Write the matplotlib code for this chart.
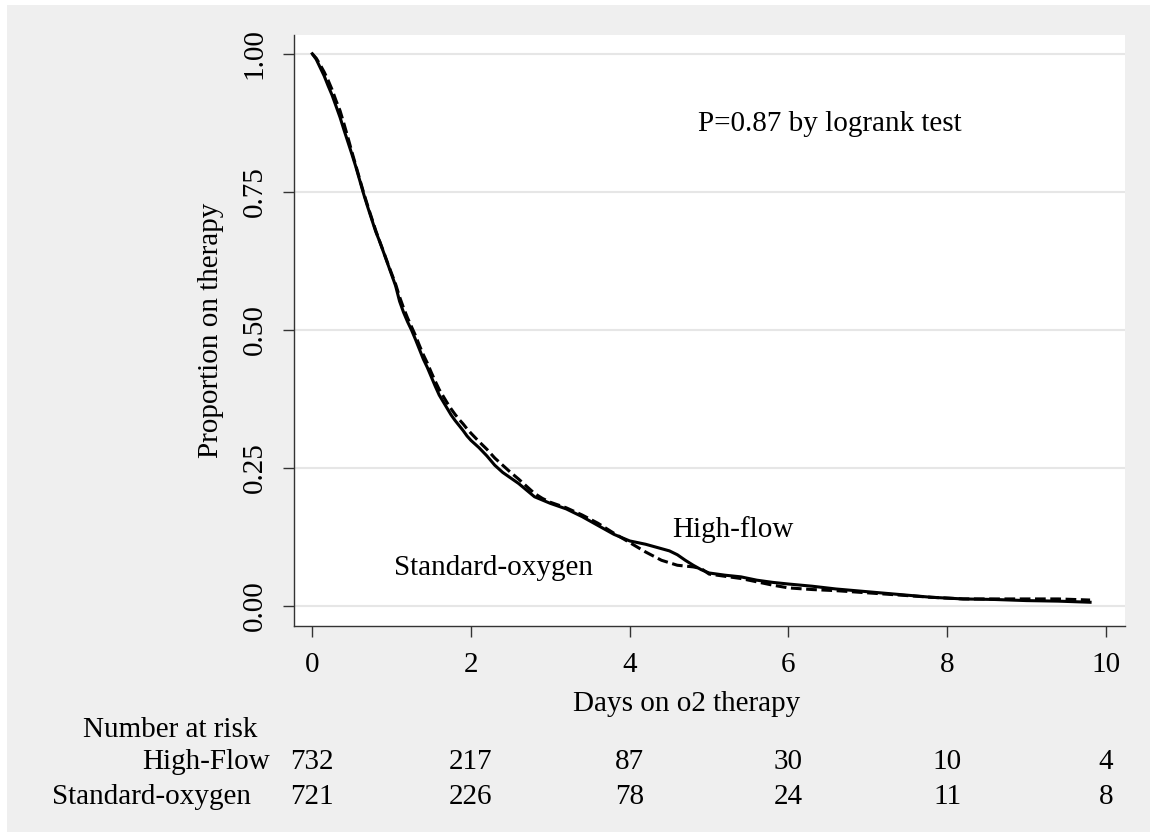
import matplotlib
matplotlib.use("Agg")
import matplotlib.pyplot as plt
from matplotlib.patches import Rectangle
from matplotlib.transforms import blended_transform_factory

# Kaplan-Meier estimates (days, proportion on therapy)
hf_days = [0.00, 0.05, 0.10, 0.15, 0.20, 0.25, 0.30, 0.35, 0.40, 0.45,
           0.50, 0.55, 0.60, 0.65, 0.70, 0.75, 0.80, 0.85, 0.90, 0.95,
           1.00, 1.05, 1.10, 1.15, 1.20, 1.25, 1.30, 1.35, 1.40, 1.45,
           1.50, 1.55, 1.60, 1.65, 1.70, 1.75, 1.80, 1.85, 1.90, 1.95,
           2.00, 2.10, 2.20, 2.30, 2.40, 2.50, 2.60, 2.70, 2.80, 2.90,
           3.00, 3.20, 3.40, 3.60, 3.80, 4.00, 4.20, 4.40, 4.50, 4.60,
           4.70, 4.80, 4.90, 5.00, 5.20, 5.40, 5.60, 5.80, 6.00, 6.30,
           6.60, 7.00, 7.40, 7.80, 8.20, 8.60, 9.00, 9.40, 9.80]
hf_surv = [1.000, 0.990, 0.975, 0.960, 0.942, 0.925, 0.905, 0.885, 0.862, 0.840,
           0.818, 0.795, 0.770, 0.745, 0.722, 0.700, 0.678, 0.660, 0.640, 0.620,
           0.600, 0.580, 0.552, 0.532, 0.515, 0.500, 0.483, 0.465, 0.447, 0.432,
           0.415, 0.398, 0.382, 0.370, 0.358, 0.346, 0.336, 0.327, 0.318, 0.308,
           0.300, 0.287, 0.272, 0.255, 0.242, 0.232, 0.222, 0.210, 0.198, 0.192,
           0.186, 0.176, 0.162, 0.146, 0.130, 0.118, 0.112, 0.104, 0.100, 0.093,
           0.083, 0.074, 0.066, 0.060, 0.056, 0.053, 0.047, 0.043, 0.040, 0.036,
           0.031, 0.026, 0.021, 0.016, 0.013, 0.012, 0.010, 0.009, 0.007]

so_days = [0.00, 0.05, 0.10, 0.15, 0.20, 0.25, 0.30, 0.35, 0.40, 0.45,
           0.50, 0.55, 0.60, 0.65, 0.70, 0.75, 0.80, 0.85, 0.90, 0.95,
           1.00, 1.05, 1.10, 1.15, 1.20, 1.25, 1.30, 1.35, 1.40, 1.45,
           1.50, 1.55, 1.60, 1.65, 1.70, 1.75, 1.80, 1.85, 1.90, 1.95,
           2.00, 2.10, 2.20, 2.30, 2.40, 2.50, 2.60, 2.70, 2.80, 2.90,
           3.00, 3.20, 3.40, 3.60, 3.80, 4.00, 4.20, 4.40, 4.60, 4.80,
           4.90, 5.00, 5.20, 5.40, 5.60, 5.80, 6.00, 6.30, 6.60, 7.00,
           7.40, 7.80, 8.20, 8.60, 9.00, 9.40, 9.80]
so_surv = [1.000, 0.992, 0.980, 0.967, 0.952, 0.935, 0.915, 0.897, 0.873, 0.848,
           0.822, 0.797, 0.772, 0.747, 0.724, 0.702, 0.680, 0.660, 0.641, 0.621,
           0.602, 0.583, 0.560, 0.540, 0.522, 0.506, 0.490, 0.472, 0.455, 0.440,
           0.423, 0.407, 0.392, 0.380, 0.368, 0.357, 0.347, 0.338, 0.330, 0.321,
           0.313, 0.298, 0.284, 0.268, 0.255, 0.242, 0.230, 0.217, 0.204, 0.195,
           0.188, 0.178, 0.165, 0.150, 0.132, 0.115, 0.098, 0.083, 0.074, 0.071,
           0.068, 0.058, 0.054, 0.050, 0.044, 0.038, 0.033, 0.030, 0.028, 0.024,
           0.020, 0.016, 0.013, 0.013, 0.013, 0.013, 0.011]

risk_days = [0, 2, 4, 6, 8, 10]
risk_hf = [732, 217, 87, 30, 10, 4]
risk_so = [721, 226, 78, 24, 11, 8]

x_ticks = [0, 2, 4, 6, 8, 10]
y_ticks = [0.0, 0.25, 0.5, 0.75, 1.0]

plt.rcParams['font.family'] = ['Liberation Serif', 'DejaVu Serif']
fs = 21

W, H = 1150, 832
fig = plt.figure(figsize=(W / 100, H / 100), dpi=100, facecolor='#efefef')
# thin white margin left by the screenshot
fig.patches.append(Rectangle((0, 1 - 5 / H), 1, 5 / H, transform=fig.transFigure,
                             facecolor='white', edgecolor='none'))
fig.patches.append(Rectangle((0, 0), 7 / W, 1, transform=fig.transFigure,
                             facecolor='white', edgecolor='none'))

ax = fig.add_axes([294 / W, 1 - 626 / H, (1125 - 294) / W, (626 - 35) / H])
ax.set_facecolor('white')
ax.set_xlim(-0.23, 10.24)
ax.set_ylim(-0.036, 1.034)

for yv in y_ticks:
    ax.axhline(yv, color='#e6e6e6', lw=1.5, zorder=1)

ax.plot(hf_days, hf_surv, color='black', lw=2.2, zorder=3)
ax.plot(so_days, so_surv, color='black', lw=2.2, dashes=(3.5, 1.5), zorder=3)

for side in ['top', 'right']:
    ax.spines[side].set_visible(False)
for side in ['left', 'bottom']:
    ax.spines[side].set_color('#333333')
    ax.spines[side].set_linewidth(1.0)

ax.set_xticks(x_ticks)
ax.set_yticks(y_ticks)
ax.set_yticklabels(['%.2f' % v for v in y_ticks], rotation=90, va='center')
ax.tick_params(axis='both', length=8, width=1, color='#333333', labelsize=fs, pad=11)

ax.set_xlabel('Days on o2 therapy', fontsize=fs)
ax.xaxis.set_label_coords(0.472, -0.11)
ax.set_ylabel('Proportion on therapy', fontsize=fs, labelpad=13)

ax.text(4.86, 0.873, 'P=0.87 by logrank test', fontsize=fs, ha='left', va='center')
ax.text(4.53, 0.138, 'High-flow', fontsize=fs, ha='left', va='center')
ax.text(1.03, 0.069, 'Standard-oxygen', fontsize=fs, ha='left', va='center')

# number at risk table
fig.text(83 / W, 1 - 730 / H, 'Number at risk', fontsize=fs, ha='left', va='center')
fig.text(270 / W, 1 - 762 / H, 'High-Flow', fontsize=fs, ha='right', va='center')
fig.text(251 / W, 1 - 797 / H, 'Standard-oxygen', fontsize=fs, ha='right', va='center')

tr = blended_transform_factory(ax.transData, fig.transFigure)
for d, n1, n2 in zip(risk_days, risk_hf, risk_so):
    ax.text(d, 1 - 762 / H, str(n1), transform=tr, fontsize=fs, ha='center', va='center')
    ax.text(d, 1 - 797 / H, str(n2), transform=tr, fontsize=fs, ha='center', va='center')

fig.savefig('out.png', dpi=100, facecolor=fig.get_facecolor())
